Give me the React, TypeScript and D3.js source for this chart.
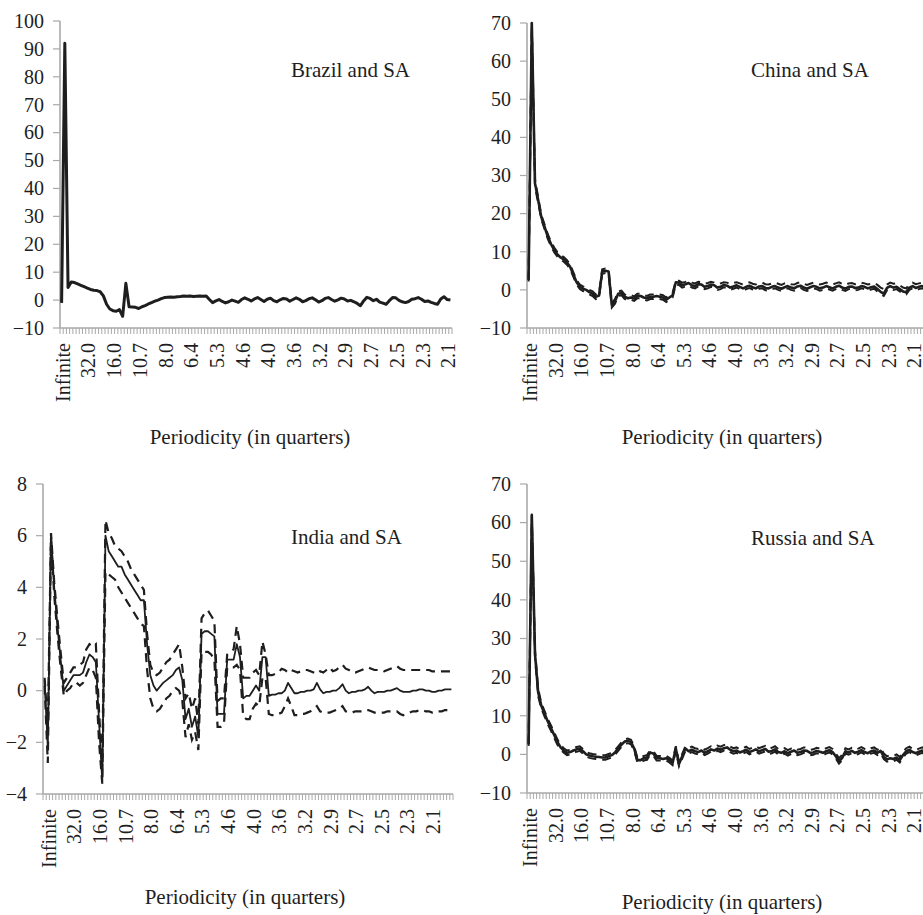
import React from "react";
import * as d3 from "d3";

// Period labels shown on every 8th frequency bin
const PERIOD_LABELS = [
  "Infinite", "32.0", "16.0", "10.7", "8.0", "6.4", "5.3", "4.6",
  "4.0", "3.6", "3.2", "2.9", "2.7", "2.5", "2.3", "2.1",
];
const LABEL_STEP = 8;

const brazilTicks = [-10, 0, 10, 20, 30, 40, 50, 60, 70, 80, 90, 100];
const chinaTicks = [-10, 0, 10, 20, 30, 40, 50, 60, 70];
const indiaTicks = [-4, -2, 0, 2, 4, 6, 8];
const russiaTicks = [-10, 0, 10, 20, 30, 40, 50, 60, 70];

// Brazil and SA
const brazilEst = [
  -1, 92, 4.5, 6.5, 6.3, 5.8, 5.3, 4.8, 4.3, 3.8,
  3.5, 3.4, 3.0, 1.5, -1.5, -3.2, -3.8, -4.0, -3.4, -5.8,
  6.0, -2.4, -2.5, -2.6, -3.0, -2.4, -2.0, -1.4, -0.9, -0.4,
  0.0, 0.5, 0.9, 1.0, 1.1, 1.0, 1.2, 1.3, 1.5, 1.4,
  1.5, 1.3, 1.4, 1.5, 1.4, 1.5, 0.2, -0.9, -0.3, 0.2,
  -0.5, -1.0, -0.6, 0.0, -0.4, -0.8, 0.2, 0.8, 0.3, -0.3,
  0.4, 0.9, 0.2, -0.5, 0.3, 0.7, -0.2, -0.6, 0.1, 0.6,
  0.4, -0.4, 0.2, 0.8, 0.3, -0.6, -0.2, 0.5, 0.8, 0.1,
  -0.7, -0.2, 0.6, 0.9, 0.2, -0.4, 0.1, 0.7, 0.4, -0.3,
  -0.1, -0.6, -1.2, -2.0, -0.3, 1.0, 0.6, -0.2, 0.3, -0.7,
  -1.1, -1.5, -0.2, 0.9, 0.8, -0.1, -0.6, -0.9, -0.5, 0.3,
  0.5, 0.9, 0.3, -0.5, -0.3, -0.8, -1.2, -1.5, 0.4, 1.2,
  0.2, 0.0,
];

// China and SA
const chinaEst = [
  2.6, 70, 28, 23.5, 19, 16.5, 14, 12, 10.5, 9.3,
  8.5, 8.0, 7.2, 6.0, 4.0, 2.0, 0.8, 0.3, 0.0, -0.6,
  -1.0, -1.8, -1.5, 4.8, 5.0, 4.8, -4.0, -3.0, -1.0, -0.8,
  -1.8, -2.2, -2.0, -2.3, -1.6, -1.6, -2.0, -2.2, -1.8, -1.8,
  -1.6, -1.8, -2.0, -2.6, -2.0, -1.4, 2.0, 1.9, 1.2, 1.5,
  1.8, 1.2, 1.0, 1.5, 1.4, 0.8, 1.0, 1.4, 1.2, 0.6,
  0.8, 1.3, 1.1, 0.6, 0.9, 1.2, 0.8, 0.4, 0.8, 1.1,
  0.7, 0.4, 0.9, 1.0, 0.5, 0.4, 0.8, 1.0, 0.6, 0.3,
  0.7, 1.0, 0.6, 0.4, 0.9, 1.1, 0.6, 0.3, 0.7, 1.0,
  0.8, 0.4, 0.6, 1.0, 0.7, 0.4, 0.8, 1.1, 0.6, 0.3,
  0.8, 0.9, 0.5, 0.6, 1.0, 0.8, 0.4, 0.7, 0.9, 0.2,
  -0.5, -1.0, 0.5, 1.0, 0.6, 0.8, 0.2, -0.4, -0.6, 0.6,
  1.0, 0.5, 0.8, 1.0, 0.6, 0.9, 0.7, 0.8,
];
const chinaUpper = [
  3.0, 70, 29, 24.2, 19.6, 17.1, 14.6, 12.6, 11.1, 9.9,
  9.1, 8.6, 7.8, 6.6, 4.6, 2.6, 1.4, 0.9, 0.6, 0.0,
  -0.4, -1.2, -0.9, 5.4, 5.6, 5.4, -3.4, -2.4, -0.4, -0.2,
  -1.2, -1.6, -1.4, -1.7, -1.0, -1.0, -1.4, -1.6, -1.2, -1.2,
  -1.0, -1.2, -1.4, -2.0, -1.4, -0.8, 2.4, 2.4, 1.9, 2.1,
  2.4, 1.9, 1.7, 2.1, 2.0, 1.6, 1.8, 2.1, 1.9, 1.5,
  1.7, 2.0, 1.9, 1.5, 1.8, 2.0, 1.7, 1.4, 1.7, 2.0,
  1.6, 1.4, 1.8, 1.9, 1.5, 1.4, 1.7, 1.9, 1.6, 1.3,
  1.7, 1.9, 1.5, 1.4, 1.8, 2.0, 1.6, 1.3, 1.6, 1.9,
  1.7, 1.4, 1.6, 1.9, 1.7, 1.4, 1.7, 2.0, 1.6, 1.3,
  1.7, 1.8, 1.5, 1.5, 1.9, 1.7, 1.4, 1.6, 1.8, 1.3,
  0.6, 0.2, 1.4, 1.9, 1.6, 1.7, 1.2, 0.6, 0.4, 1.5,
  1.9, 1.5, 1.7, 1.9, 1.6, 1.8, 1.6, 1.7,
];
const chinaLower = [
  2.2, 69, 27, 22.8, 18.4, 15.9, 13.4, 11.4, 9.9, 8.7,
  7.9, 7.4, 6.6, 5.4, 3.4, 1.4, 0.2, -0.3, -0.6, -1.2,
  -1.6, -2.4, -2.1, 4.2, 4.4, 4.2, -4.6, -3.6, -1.6, -1.4,
  -2.4, -2.8, -2.6, -2.9, -2.2, -2.2, -2.6, -2.8, -2.4, -2.4,
  -2.2, -2.4, -2.6, -3.2, -2.6, -2.0, 1.4, 1.3, 0.6, 0.9,
  1.2, 0.6, 0.4, 0.9, 0.8, 0.2, 0.4, 0.8, 0.6, 0.0,
  0.2, 0.7, 0.5, 0.0, 0.3, 0.6, 0.2, -0.2, 0.2, 0.5,
  0.1, -0.2, 0.3, 0.4, -0.1, -0.2, 0.2, 0.4, 0.0, -0.3,
  0.1, 0.4, 0.0, -0.2, 0.3, 0.5, 0.0, -0.3, 0.1, 0.4,
  0.2, -0.2, 0.0, 0.4, 0.1, -0.2, 0.2, 0.5, 0.0, -0.3,
  0.2, 0.3, -0.1, 0.0, 0.4, 0.2, -0.2, 0.1, 0.3, -0.4,
  -1.1, -1.6, -0.1, 0.4, 0.0, 0.2, -0.4, -1.0, -1.2, 0.0,
  0.4, -0.1, 0.2, 0.4, 0.0, 0.3, 0.1, 0.2,
];

// India and SA
const indiaEst = [
  0.4, -2.2, 6.0, 4.0, 2.5, 1.2, 0.0, 0.2, 0.4, 0.6,
  0.6, 0.6, 0.7, 1.1, 1.4, 1.3, 1.1, -1.2, -3.5, 6.0,
  5.4, 5.2, 5.0, 4.8, 4.8, 4.5, 4.3, 4.1, 3.9, 3.7,
  3.5, 3.5, 1.8, 0.6, 0.2, 0.0, 0.15, 0.3, 0.4, 0.5,
  0.6, 0.8, 0.9, 0.4, -1.1, -0.7, -1.4, -1.0, -1.8, 2.2,
  2.3, 2.3, 2.2, 2.1, -0.9, -0.9, -0.9, 1.2, 1.2, 1.2,
  1.8, 1.3, -0.3, -0.2, -0.2, 0.0, 0.2, 0.0, 1.3, 1.3,
  -0.2, -0.15, -0.15, -0.1, -0.1, 0.0, 0.3, 0.1, -0.1, -0.1,
  -0.05, -0.05, 0.0, 0.0, 0.05, 0.3, 0.05, -0.1, -0.05, -0.05,
  0.0, 0.0, 0.1, 0.25, 0.0, -0.1, -0.05, -0.05, 0.0, 0.0,
  0.05, 0.15, 0.0, -0.1, -0.05, -0.05, -0.05, 0.0, 0.0, 0.05,
  0.1, 0.0, -0.05, -0.05, -0.05, 0.0, 0.0, 0.05, 0.05, 0.0,
  0.0, -0.05, -0.05, 0.0, 0.0, 0.05, 0.05, 0.05,
];
const indiaUpper = [
  0.5, -1.4, 6.1, 4.2, 2.8, 1.5, 0.3, 0.5, 0.7, 0.9,
  0.9, 1.0, 1.1, 1.6, 1.8, 1.7, 1.8, -0.8, -3.0, 6.6,
  6.1, 5.9, 5.6, 5.5, 5.4, 5.2, 5.0, 4.7, 4.5, 4.3,
  4.1, 3.9, 2.2, 1.0, 0.7, 0.6, 0.7, 0.9, 1.1, 1.2,
  1.4, 1.6, 1.8, 0.9, -0.3, -0.1, -0.7, -0.3, -1.3, 2.8,
  3.0, 3.1, 2.9, 2.7, -0.4, -0.3, -0.3, 1.4, 1.5, 1.6,
  2.5, 1.8, 0.5, 0.5, 0.5, 0.7, 0.8, 0.6, 1.9, 1.4,
  0.6, 0.6, 0.65, 0.7, 0.85, 0.8, 0.7, 0.8, 0.75, 0.7,
  0.75, 0.8, 0.8, 0.75, 0.7, 0.65, 0.75, 0.7, 0.8, 0.9,
  0.75, 0.8, 0.9, 1.0, 0.85, 0.8, 0.7, 0.7, 0.75, 0.8,
  0.85, 0.9, 0.85, 0.8, 0.8, 0.8, 0.75, 0.8, 0.85, 0.9,
  0.95, 0.85, 0.8, 0.8, 0.8, 0.8, 0.8, 0.8, 0.8, 0.8,
  0.8, 0.75, 0.75, 0.75, 0.75, 0.75, 0.75, 0.75,
];
const indiaLower = [
  0.2, -2.8, 5.9, 3.7, 2.2, 0.9, -0.2, 0.0, 0.1, 0.3,
  0.3, 0.2, 0.3, 0.6, 0.9, 0.8, 0.5, -2.0, -3.6, 4.6,
  4.5, 4.4, 4.3, 4.0, 3.8, 3.6, 3.4, 3.2, 3.0, 2.8,
  2.6, 2.5, 0.8, -0.3, -0.7, -0.8, -0.7, -0.5, -0.3, -0.2,
  0.0, 0.1, 0.0, -0.4, -1.8, -1.3, -1.9, -1.6, -2.3, 1.5,
  1.5, 1.5, 1.4, 1.2, -1.4, -1.4, -1.3, 0.9, 0.9, 0.9,
  1.0, 0.8, -1.0, -1.1, -1.1, -0.7, -0.5, -0.6, 0.5, 0.5,
  -0.9, -0.95, -0.95, -0.9, -0.85, -0.6, -0.3, -0.6, -0.95, -0.95,
  -0.9, -0.9, -0.85, -0.8, -0.7, -0.6, -0.8, -0.85, -0.85, -0.85,
  -0.8, -0.75, -0.7, -0.6, -0.8, -0.85, -0.85, -0.8, -0.8, -0.8,
  -0.75, -0.75, -0.8, -0.85, -0.85, -0.85, -0.85, -0.8, -0.8, -0.8,
  -0.8, -0.9, -0.95, -0.9, -0.85, -0.8, -0.8, -0.75, -0.75, -0.8,
  -0.8, -0.85, -0.85, -0.8, -0.8, -0.75, -0.75, -0.8,
];

// Russia and SA
const russiaEst = [
  2.6, 62, 26, 16, 12.5, 10.5, 8.5, 6.8, 5.0, 3.2,
  1.8, 1.0, 0.4, 0.6, 1.0, 1.3, 1.5, 0.8, 0.0, -0.3,
  -0.5, -0.6, -0.7, -0.8, -0.8, -0.5, -0.2, 0.5, 1.5, 2.5,
  3.3, 3.5, 3.2, 1.5, -1.5, -1.5, -1.0, -0.8, 0.5, 0.2,
  -1.0, -1.0, -1.2, -1.0, -1.5, -2.2, 1.5, -2.5, -0.5, 1.5,
  0.8, 1.2, 0.8, 0.6, 1.0, 0.4, 0.8, 1.3, 1.0, 1.5,
  1.2, 1.6, 1.8, 1.2, 0.8, 1.0, 0.5, 0.8, 1.2, 0.6,
  0.9, 1.3, 0.8, 1.1, 1.4, 0.7, 0.9, 1.3, 0.6, 0.4,
  0.8, 0.3, 0.7, 1.0, 0.4, 0.6, 1.0, 0.9, 0.4, 0.5,
  0.9, 0.7, 0.4, 0.8, 1.1, 0.6, -0.5, -1.8, -0.9, 0.8,
  0.5, 0.9, 0.4, 0.7, 1.1, 0.6, 0.3, 0.8, 1.0, 0.4,
  0.9, -0.6, -1.3, -1.0, -1.2, -0.8, -1.5, -0.2, 0.8, 1.2,
  0.6, 0.3, 0.7, 1.0, 0.5, 0.8, 0.6, 0.9,
];
const russiaUpper = [
  3.0, 62, 27, 17, 13.2, 11.2, 9.2, 7.5, 5.7, 3.9,
  2.4, 1.6, 1.0, 1.2, 1.6, 1.9, 2.1, 1.4, 0.6, 0.3,
  0.1, 0.0, -0.1, -0.2, -0.2, 0.1, 0.4, 1.1, 2.1, 3.1,
  3.9, 4.1, 3.8, 2.1, -0.9, -0.9, -0.4, -0.2, 1.1, 0.8,
  -0.4, -0.4, -0.6, -0.4, -0.9, -1.6, 2.1, -1.9, 0.1, 2.1,
  1.6, 2.0, 1.6, 1.4, 1.8, 1.2, 1.6, 2.1, 1.8, 2.3,
  2.0, 2.4, 2.6, 2.0, 1.6, 1.8, 1.3, 1.6, 2.0, 1.4,
  1.7, 2.1, 1.6, 1.9, 2.2, 1.5, 1.7, 2.1, 1.4, 1.2,
  1.6, 1.1, 1.5, 1.8, 1.2, 1.4, 1.8, 1.7, 1.2, 1.3,
  1.7, 1.5, 1.2, 1.6, 1.9, 1.4, 0.3, -1.0, -0.1, 1.6,
  1.3, 1.7, 1.2, 1.5, 1.9, 1.4, 1.1, 1.6, 1.8, 1.2,
  1.7, 0.2, -0.5, -0.2, -0.4, 0.0, -0.7, 0.6, 1.6, 2.0,
  1.4, 1.1, 1.5, 1.8, 1.3, 1.6, 1.4, 1.7,
];
const russiaLower = [
  2.2, 61, 25, 15, 11.8, 9.8, 7.8, 6.1, 4.3, 2.5,
  1.2, 0.4, -0.2, 0.0, 0.4, 0.7, 0.9, 0.2, -0.6, -0.9,
  -1.1, -1.2, -1.3, -1.4, -1.4, -1.1, -0.8, -0.1, 0.9, 1.9,
  2.7, 2.9, 2.6, 0.9, -2.1, -2.1, -1.6, -1.4, -0.1, -0.4,
  -1.6, -1.6, -1.8, -1.6, -2.1, -2.8, 0.9, -3.1, -1.1, 0.9,
  0.2, 0.6, 0.2, 0.0, 0.4, -0.2, 0.2, 0.7, 0.4, 0.9,
  0.6, 1.0, 1.2, 0.6, 0.2, 0.4, -0.1, 0.2, 0.6, 0.0,
  0.3, 0.7, 0.2, 0.5, 0.8, 0.1, 0.3, 0.7, 0.0, -0.2,
  0.2, -0.3, 0.1, 0.4, -0.2, 0.0, 0.4, 0.3, -0.2, -0.1,
  0.3, 0.1, -0.2, 0.2, 0.5, 0.0, -1.1, -2.4, -1.5, 0.2,
  -0.1, 0.3, -0.2, 0.1, 0.5, 0.0, -0.3, 0.2, 0.4, -0.2,
  0.3, -1.2, -1.9, -1.6, -1.8, -1.4, -2.1, -0.8, 0.2, 0.6,
  0.0, -0.3, 0.1, 0.4, -0.1, 0.2, 0.0, 0.3,
];

const AXIS_COLOR = "#a9a9a9";
const INK = "#1e1e1e";
const FONT = "'Liberation Serif', 'Times New Roman', Times, serif";

type PanelProps = {
  title: string;
  est: number[];
  upper?: number[];
  lower?: number[];
  yDomain: [number, number];
  yTicks: number[];
  x0: number;
  x1: number;
  yTop: number;
  yBottom: number;
  titleX: number;
  titleY: number;
  axisTitleX: number;
  axisTitleY: number;
  mainWidth: number;
  bandWidth: number;
  labelShift: number;
};

function Panel(p: PanelProps) {
  const n = p.est.length;
  const x = d3
    .scaleBand<number>()
    .domain(d3.range(n))
    .range([p.x0, p.x1])
    .paddingInner(0)
    .paddingOuter(0);
  const bw = x.bandwidth();
  const cx = (i: number) => (x(i) as number) + bw / 2;
  const y = d3.scaleLinear().domain(p.yDomain).range([p.yBottom, p.yTop]);
  const line = d3
    .line<number>()
    .x((_, i) => cx(i))
    .y((d) => y(d));

  const boundaries = d3.range(n + 1).map((k) => p.x0 + k * bw);
  const labelIdx = PERIOD_LABELS.map((_, j) => j * LABEL_STEP).filter((k) => k < n);
  const fmt = (v: number) => (v < 0 ? "\u2212" + Math.abs(v) : String(v));

  return (
    <g>
      {/* category tick marks along the x axis */}
      {boundaries.map((bx, i) => (
        <line
          key={"xt" + i}
          x1={bx}
          x2={bx}
          y1={p.yBottom}
          y2={p.yBottom + 6}
          stroke={AXIS_COLOR}
          strokeWidth={1}
        />
      ))}
      {/* y tick marks */}
      {p.yTicks.map((t) => (
        <line
          key={"yt" + t}
          x1={p.x0 - 7}
          x2={p.x0}
          y1={y(t)}
          y2={y(t)}
          stroke={AXIS_COLOR}
          strokeWidth={1.2}
        />
      ))}
      <line x1={p.x0} x2={p.x0} y1={p.yTop} y2={p.yBottom} stroke={AXIS_COLOR} strokeWidth={1.6} />
      <line x1={p.x0} x2={p.x1} y1={p.yBottom} y2={p.yBottom} stroke={AXIS_COLOR} strokeWidth={1.6} />

      {/* y tick labels */}
      {p.yTicks.map((t) => (
        <text
          key={"yl" + t}
          x={p.x0 - 16}
          y={y(t)}
          dy="0.34em"
          textAnchor="end"
          fontSize={20}
          fontFamily={FONT}
          fill={INK}
        >
          {fmt(t)}
        </text>
      ))}

      {/* period labels, rotated */}
      {labelIdx.map((k, j) => (
        <text
          key={"xl" + k}
          transform={`translate(${cx(k) + p.labelShift},${p.yBottom + 15}) rotate(-90)`}
          dy="0.33em"
          textAnchor="end"
          fontSize={20}
          fontFamily={FONT}
          fill={INK}
        >
          {PERIOD_LABELS[j]}
        </text>
      ))}

      {/* confidence bands */}
      {p.upper && (
        <path
          d={line(p.upper) || ""}
          fill="none"
          stroke={INK}
          strokeWidth={p.bandWidth}
          strokeDasharray="9 6"
        />
      )}
      {p.lower && (
        <path
          d={line(p.lower) || ""}
          fill="none"
          stroke={INK}
          strokeWidth={p.bandWidth}
          strokeDasharray="9 6"
        />
      )}
      {/* point estimate */}
      <path
        d={line(p.est) || ""}
        fill="none"
        stroke={INK}
        strokeWidth={p.mainWidth}
        strokeLinejoin="round"
      />

      <text x={p.titleX} y={p.titleY} fontSize={21} fontFamily={FONT} fill={INK}>
        {p.title}
      </text>
      <text
        x={p.axisTitleX}
        y={p.axisTitleY}
        textAnchor="middle"
        fontSize={21}
        fontFamily={FONT}
        fill={INK}
      >
        Periodicity (in quarters)
      </text>
    </g>
  );
}

export default function App() {
  return (
    <svg
      width={923}
      height={915}
      viewBox="0 0 923 915"
      style={{ position: "absolute", left: 0, top: 0, background: "#fff" }}
    >
      <rect x={0} y={0} width={923} height={915} fill="#fff" />
      <Panel
        title="Brazil and SA"
        est={brazilEst}
        yDomain={[-10, 100]}
        yTicks={brazilTicks}
        x0={60}
        x1={452}
        yTop={21}
        yBottom={328}
        titleX={291}
        titleY={77}
        axisTitleX={250}
        axisTitleY={444}
        mainWidth={3}
        bandWidth={2}
        labelShift={1.5}
      />
      <Panel
        title="China and SA"
        est={chinaEst}
        upper={chinaUpper}
        lower={chinaLower}
        yDomain={[-10, 70]}
        yTicks={chinaTicks}
        x0={527}
        x1={527 + 128 * 3.2}
        yTop={23}
        yBottom={328}
        titleX={751}
        titleY={77}
        axisTitleX={722}
        axisTitleY={444}
        mainWidth={2.6}
        bandWidth={2}
        labelShift={2}
      />
      <Panel
        title="India and SA"
        est={indiaEst}
        upper={indiaUpper}
        lower={indiaLower}
        yDomain={[-4, 8]}
        yTicks={indiaTicks}
        x0={43}
        x1={453}
        yTop={484}
        yBottom={794}
        titleX={291}
        titleY={544}
        axisTitleX={245}
        axisTitleY={904}
        mainWidth={1.8}
        bandWidth={2.2}
        labelShift={4.5}
      />
      <Panel
        title="Russia and SA"
        est={russiaEst}
        upper={russiaUpper}
        lower={russiaLower}
        yDomain={[-10, 70]}
        yTicks={russiaTicks}
        x0={527}
        x1={527 + 128 * 3.2}
        yTop={484}
        yBottom={793}
        titleX={751}
        titleY={545}
        axisTitleX={722}
        axisTitleY={909}
        mainWidth={2.6}
        bandWidth={2}
        labelShift={2}
      />
    </svg>
  );
}
